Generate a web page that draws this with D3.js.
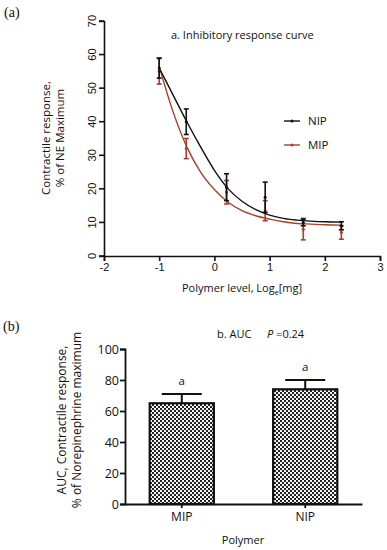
<!DOCTYPE html>
<html>
<head>
<meta charset="utf-8">
<script src="https://cdn.jsdelivr.net/npm/d3@7"></script>
<style>
  body { margin: 0; background: #fff; }
  svg { display: block; }
  text { font-family: "Open Sans", "Liberation Sans", sans-serif; fill: #111; }
</style>
</head>
<body>
<script>
// panel a: inhibitory response curve
var doseLog = [-1, -0.51, 0.22, 0.92, 1.61, 2.3];
var nipMean = [56, 40, 20.5, 17.5, 10, 9];
var nipErr = [3, 3.8, 4, 4.5, 1, 1.2];
var mipMean = [55, 32, 19, 13.5, 8, 7];
var mipErr = [3.8, 3, 3.5, 3, 3.2, 2];
var fitX = [-1, -0.75, -0.5, -0.25, 0, 0.25, 0.5, 0.75, 1, 1.25, 1.5, 1.75, 2, 2.3];
var nipFit = [56, 48, 40, 32.5, 25.5, 20, 16.3, 13.8, 12.2, 11.2, 10.7, 10.4, 10.2, 10.1];
var mipFit = [56.5, 43, 32.5, 25, 19.8, 16, 13.5, 12, 11, 10.2, 9.7, 9.5, 9.3, 9.2];
var xTicksA = [-2, -1, 0, 1, 2, 3];
var yTicksA = [0, 10, 20, 30, 40, 50, 60, 70];

// panel b: AUC
var groups = ['MIP', 'NIP'];
var aucMean = [65, 74];
var aucErr = [6, 6];
var yTicksB = [0, 20, 40, 60, 80, 100];

var nipColor = '#111', mipColor = '#a2432a';

var svg = d3.select('body').append('svg')
  .attr('width', 387)
  .attr('height', 550);

// pattern for bars
var defs = svg.append('defs');
var pat = defs.append('pattern')
  .attr('id', 'checks')
  .attr('patternUnits', 'userSpaceOnUse')
  .attr('width', 4).attr('height', 4);
pat.append('rect').attr('width', 4).attr('height', 4).attr('fill', '#f4f4f4');
pat.append('rect').attr('width', 2).attr('height', 2).attr('fill', '#222');
pat.append('rect').attr('x', 2).attr('y', 2).attr('width', 2).attr('height', 2).attr('fill', '#222');

// ---------- panel a ----------
svg.append('text')
  .attr('x', 4).attr('y', 17)
  .style('font-family', '"Liberation Serif", serif')
  .style('font-size', '14px')
  .text('(a)');

var xa = d3.scaleLinear().domain([-2, 3]).range([104, 380]);
var ya = d3.scaleLinear().domain([0, 70]).range([256, 21]);

var gxa = svg.append('g')
  .attr('transform', 'translate(0,' + ya(0) + ')')
  .call(d3.axisBottom(xa).tickValues(xTicksA).tickSize(5).tickFormat(function(d) { return String(d); }));
gxa.selectAll('text')
  .style('font-family', '"Liberation Sans", sans-serif')
  .style('font-size', '11px')
  .attr('dy', '0.75em').attr('y', 7);

var gya = svg.append('g')
  .attr('transform', 'translate(' + xa(-2) + ',0)')
  .call(d3.axisLeft(ya).tickValues(yTicksA).tickSize(5));
gya.selectAll('.tick').attr('transform', null);
gya.selectAll('.tick line')
  .attr('y1', function(d) { return ya(d); })
  .attr('y2', function(d) { return ya(d); });
gya.selectAll('text')
  .style('font-family', '"Liberation Sans", sans-serif')
  .style('font-size', '11px')
  .attr('text-anchor', 'middle')
  .attr('x', 0).attr('y', 0).attr('dy', 0)
  .attr('transform', function(d) { return 'translate(-8,' + ya(d) + ') rotate(-90)'; });

[gxa, gya].forEach(function(g) {
  g.select('.domain').attr('stroke', '#111').attr('stroke-width', 1.6);
  g.selectAll('.tick line').attr('stroke', '#111').attr('stroke-width', 1.6);
});

svg.append('text')
  .attr('x', 171).attr('y', 39)
  .style('font-size', '11px')
  .text('a. Inhibitory response curve');

var ylabA = svg.append('text')
  .attr('transform', 'translate(50,138) rotate(-90)')
  .attr('text-anchor', 'middle')
  .style('font-size', '11.5px');
ylabA.append('tspan').attr('x', 0).attr('dy', 0).text('Contractile response,');
ylabA.append('tspan').attr('x', 0).attr('dy', 14).text('% of NE Maximum');

var xlabA = svg.append('text')
  .attr('x', 242).attr('y', 292)
  .attr('text-anchor', 'middle')
  .style('font-size', '11px');
xlabA.append('tspan').text('Polymer level, Log');
xlabA.append('tspan').attr('dy', 3).style('font-size', '7px').text('e');
xlabA.append('tspan').attr('dy', -3).text('[mg]');

var line = d3.line()
  .x(function(d) { return xa(d[0]); })
  .y(function(d) { return ya(d[1]); })
  .curve(d3.curveMonotoneX);

var series = [
  { name: 'NIP', color: nipColor, mean: nipMean, err: nipErr, fit: nipFit },
  { name: 'MIP', color: mipColor, mean: mipMean, err: mipErr, fit: mipFit }
];

series.slice().reverse().forEach(function(s) {
  svg.append('path')
    .datum(d3.zip(fitX, s.fit))
    .attr('fill', 'none')
    .attr('stroke', s.color)
    .attr('stroke-width', 1.4)
    .attr('d', line);

  var eb = svg.append('g').selectAll('g')
    .data(d3.range(doseLog.length))
    .enter().append('g');
  eb.append('line')
    .attr('x1', function(i) { return xa(doseLog[i]); })
    .attr('x2', function(i) { return xa(doseLog[i]); })
    .attr('y1', function(i) { return ya(s.mean[i] - s.err[i]); })
    .attr('y2', function(i) { return ya(s.mean[i] + s.err[i]); })
    .attr('stroke', s.color).attr('stroke-width', 1.6);
  [-1, 1].forEach(function(sign) {
    eb.append('line')
      .attr('x1', function(i) { return xa(doseLog[i]) - 2.5; })
      .attr('x2', function(i) { return xa(doseLog[i]) + 2.5; })
      .attr('y1', function(i) { return ya(s.mean[i] + sign * s.err[i]); })
      .attr('y2', function(i) { return ya(s.mean[i] + sign * s.err[i]); })
      .attr('stroke', s.color).attr('stroke-width', 1.6);
  });
  eb.append('circle')
    .attr('cx', function(i) { return xa(doseLog[i]); })
    .attr('cy', function(i) { return ya(s.mean[i]); })
    .attr('r', 1.5)
    .attr('fill', s.color);
});

// legend
series.forEach(function(s, i) {
  var ly = 121 + i * 24;
  svg.append('line')
    .attr('x1', 284).attr('x2', 300)
    .attr('y1', ly).attr('y2', ly)
    .attr('stroke', s.color).attr('stroke-width', 1.4);
  svg.append('circle').attr('cx', 292).attr('cy', ly).attr('r', 1.5).attr('fill', s.color);
  svg.append('text')
    .attr('x', 308).attr('y', ly + 4)
    .style('font-size', '11.5px')
    .text(s.name);
});

// ---------- panel b ----------
svg.append('text')
  .attr('x', 3).attr('y', 331)
  .style('font-family', '"Liberation Serif", serif')
  .style('font-size', '14px')
  .text('(b)');

var xb = d3.scaleBand().domain(groups).range([125, 362]).paddingInner(0.48).paddingOuter(0.2);
var yb = d3.scaleLinear().domain([0, 100]).range([504, 349]);

var title = svg.append('text')
  .attr('y', 338)
  .style('font-size', '11px');
title.append('tspan').attr('x', 217).text('b. AUC');
title.append('tspan').attr('x', 267).style('font-style', 'italic').text('P');
title.append('tspan').text(' =0.24');

var gyb = svg.append('g')
  .attr('transform', 'translate(125,0)')
  .call(d3.axisLeft(yb).tickValues(yTicksB).tickSize(5));
gyb.selectAll('text').style('font-size', '12.5px').attr('x', -6);

var bars = svg.append('g').selectAll('g')
  .data(groups)
  .enter().append('g');

bars.append('line')
  .attr('x1', function(d) { return xb(d) + xb.bandwidth() / 2; })
  .attr('x2', function(d) { return xb(d) + xb.bandwidth() / 2; })
  .attr('y1', function(d, i) { return yb(aucMean[i]); })
  .attr('y2', function(d, i) { return yb(aucMean[i] + aucErr[i]); })
  .attr('stroke', '#111').attr('stroke-width', 2);
bars.append('line')
  .attr('x1', function(d) { return xb(d) + xb.bandwidth() / 2 - 20; })
  .attr('x2', function(d) { return xb(d) + xb.bandwidth() / 2 + 20; })
  .attr('y1', function(d, i) { return yb(aucMean[i] + aucErr[i]); })
  .attr('y2', function(d, i) { return yb(aucMean[i] + aucErr[i]); })
  .attr('stroke', '#111').attr('stroke-width', 2);
bars.append('rect')
  .attr('x', function(d) { return xb(d); })
  .attr('y', function(d, i) { return yb(aucMean[i]); })
  .attr('width', xb.bandwidth())
  .attr('height', function(d, i) { return yb(0) - yb(aucMean[i]); })
  .attr('fill', 'url(#checks)')
  .attr('stroke', '#111').attr('stroke-width', 2.2);
bars.append('text')
  .attr('x', function(d) { return xb(d) + xb.bandwidth() / 2; })
  .attr('y', function(d, i) { return yb(aucMean[i] + aucErr[i]) - 9; })
  .attr('text-anchor', 'middle')
  .style('font-size', '11.5px')
  .text('a');

var gxb = svg.append('g')
  .attr('transform', 'translate(0,' + yb(0) + ')')
  .call(d3.axisBottom(xb).tickSize(4).tickSizeOuter(0));
gxb.selectAll('text').style('font-size', '12px').attr('y', 8);

[gxb, gyb].forEach(function(g) {
  g.select('.domain').attr('stroke', '#111').attr('stroke-width', 1.8);
  g.selectAll('.tick line').attr('stroke', '#111').attr('stroke-width', 1.8);
});

svg.append('text')
  .attr('x', 243).attr('y', 544)
  .attr('text-anchor', 'middle')
  .style('font-size', '11px')
  .text('Polymer');

var ylabB = svg.append('text')
  .attr('transform', 'translate(66,420) rotate(-90)')
  .attr('text-anchor', 'middle')
  .style('font-size', '12px');
ylabB.append('tspan').attr('x', 0).attr('dy', 0).text('AUC, Contractile response,');
ylabB.append('tspan').attr('x', 0).attr('dy', 15).text('% of Norepinephrine maximum');
</script>
</body>
</html>
